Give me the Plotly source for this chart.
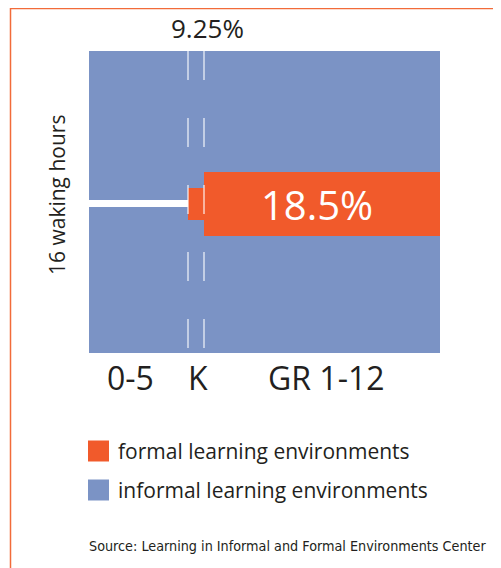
import plotly.graph_objects as go

# ---- data ----
stages = ["0-5", "K", "GR 1-12"]
stage_widths = [99, 16, 236]          # relative horizontal span of each stage
waking_hours = 16
formal_hours = [0, 1.7, 3.4]          # height of the formal-learning band per stage
formal_labels = ["", "9.25%", "18.5%"]
band_center = 7.9
divider_hours = 0.37                  # white divider in the 0-5 stage
legend_names = ["formal learning environments", "informal learning environments"]
source_text = "Source: Learning in Informal and Formal Environments Center"

ORANGE = "#F15A2B"
BLUE = "#7B93C5"
FONT = "Open Sans"
TEXT = "#231F20"

# stage geometry derived from widths
starts = []
acc = 0
for w in stage_widths:
    starts.append(acc)
    acc += w
total = acc
centers = [s + w / 2 for s, w in zip(starts, stage_widths)]

fig = go.Figure()

# informal background (whole waking day)
fig.add_trace(go.Bar(x=[total / 2], y=[waking_hours], base=[0], width=[total],
                     marker=dict(color=BLUE, line=dict(width=0)),
                     showlegend=False, hoverinfo="skip"))

# dashed boundaries around K (drawn top to bottom, under the formal bands)
for xb in [starts[1], starts[2]]:
    fig.add_trace(go.Scatter(x=[xb, xb], y=[waking_hours, 0], mode="lines",
                             line=dict(color="rgba(255,255,255,0.55)", width=2, dash="29px,38px"),
                             showlegend=False, hoverinfo="skip"))

# white divider in the 0-5 stage
fig.add_trace(go.Bar(x=[centers[0]], y=[divider_hours], base=[band_center - divider_hours / 2],
                     width=[stage_widths[0]],
                     marker=dict(color="white", line=dict(width=0)),
                     showlegend=False, hoverinfo="skip"))

# formal bands
fx, fy, fb, fw = [], [], [], []
for c, w, h in zip(centers, stage_widths, formal_hours):
    if h > 0:
        fx.append(c); fy.append(h); fb.append(band_center - h / 2); fw.append(w)
fig.add_trace(go.Bar(x=fx, y=fy, base=fb, width=fw,
                     marker=dict(color=ORANGE, line=dict(width=0)),
                     showlegend=False, hoverinfo="skip"))

shapes = []

# ---- layout geometry (reference pixels; the page body adds an 8px offset) ----
OFF = 8
W, H = 501 - OFF, 568 - OFF
L, R, T, B = 89, 440, 51, 353
def px(x):
    return (x - L) / (R - L)
def py(y):
    return (B - y) / (B - T)

annotations = []
# percentage labels
annotations.append(dict(x=centers[1], y=py(28), xref="x", yref="paper", text=formal_labels[1],
                        xanchor="center", yanchor="middle",
                        showarrow=False, xshift=11, font=dict(family=FONT, size=26, color=TEXT)))
annotations.append(dict(x=centers[2], y=band_center, xref="x", yref="y", text=formal_labels[2],
                        xanchor="center", yanchor="middle",
                        showarrow=False, xshift=-5, yshift=-1, font=dict(family=FONT, size=40, color="white")))
# stage labels
shifts = [-8, 2, 4]
for c, s, sh in zip(centers, stages, shifts):
    annotations.append(dict(x=c, y=py(377), xref="x", yref="paper", text=s, showarrow=False,
                            xanchor="center", yanchor="middle",
                            xshift=sh, font=dict(family=FONT, size=32, color=TEXT)))
# y label
annotations.append(dict(x=px(57), y=py(195), xref="paper", yref="paper", text="16 waking hours",
                        xanchor="center", yanchor="middle",
                        textangle=-90, showarrow=False,
                        font=dict(family=FONT, size=21, color=TEXT)))
# legend
legend_rows = [451, 490]
legend_colors = [ORANGE, BLUE]
for name, yc, col in zip(legend_names, legend_rows, legend_colors):
    shapes.append(dict(type="rect", xref="paper", yref="paper",
                       x0=px(88), x1=px(109), y0=py(yc + 10.5), y1=py(yc - 10.5),
                       fillcolor=col, line=dict(width=0)))
    annotations.append(dict(x=px(116), y=py(yc), xref="paper", yref="paper", text=name,
                            xanchor="left", yanchor="middle", showarrow=False,
                            font=dict(family=FONT, size=21, color=TEXT)))
# source
annotations.append(dict(x=px(87), y=py(546), xref="paper", yref="paper", text=source_text,
                        xanchor="left", yanchor="middle", showarrow=False,
                        font=dict(family="DejaVu Sans Condensed, Roboto, sans-serif", size=14.25, color=TEXT)))
# orange frame
shapes.append(dict(type="line", xref="paper", yref="paper", x0=px(10), x1=px(W + OFF + 5),
                   y0=py(8.5), y1=py(8.5), line=dict(color="#F26B3A", width=1.5)))
shapes.append(dict(type="line", xref="paper", yref="paper", x0=px(10.5), x1=px(10.5),
                   y0=py(8), y1=py(H + OFF + 5), line=dict(color="#F26B3A", width=1.5)))

fig.update_layout(
    width=W, height=H,
    margin=dict(l=L - OFF, r=(W + OFF) - R, t=T - OFF, b=(H + OFF) - B, pad=0),
    paper_bgcolor="white", plot_bgcolor="white",
    barmode="overlay", bargap=0,
    xaxis=dict(range=[0, total], visible=False, fixedrange=True),
    yaxis=dict(range=[0, waking_hours], visible=False, fixedrange=True),
    annotations=annotations,
    shapes=shapes,
    showlegend=False,
)

fig.write_html("out.html")
